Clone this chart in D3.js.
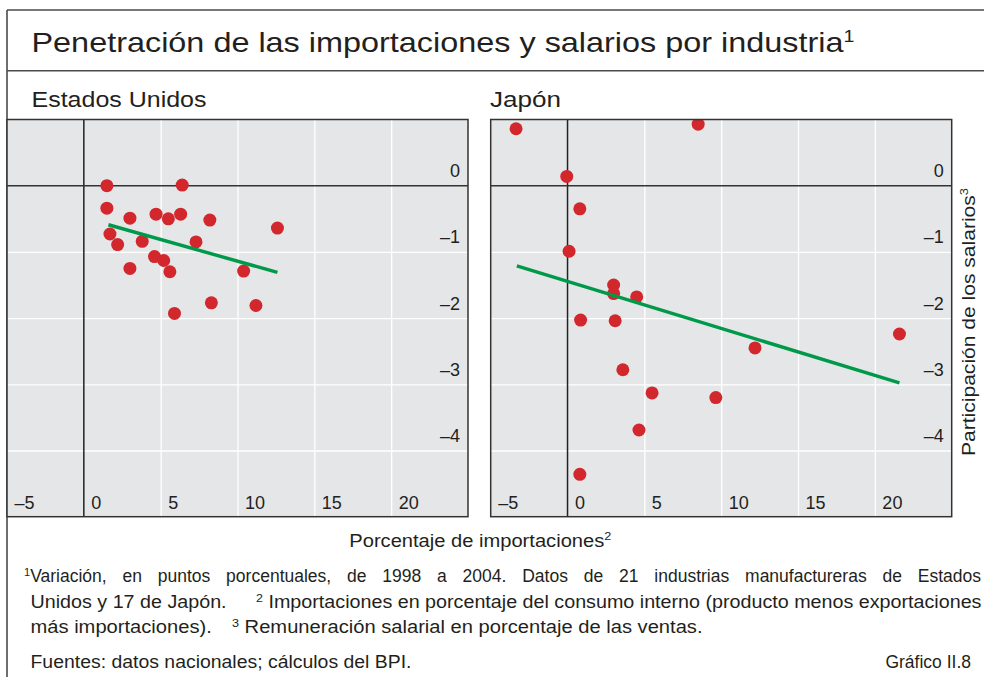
<!DOCTYPE html>
<html>
<head>
<meta charset="utf-8">
<script src="https://cdn.jsdelivr.net/npm/d3@7"></script>
<style>
  body { margin: 0; background: #fff; }
  text { font-family: "Liberation Sans", Arial, sans-serif; fill: #231f20; }
</style>
</head>
<body>
<svg id="chart" width="984" height="677"></svg>
<script>
// Estados Unidos: 21 industrias (porcentaje de importaciones, participación de los salarios)
const usImports = [1.5, 6.4, 1.5, 3.0, 4.7, 5.5, 6.3, 8.2, 12.6, 1.7, 2.2, 3.8, 7.3, 4.6, 5.2, 3.0, 5.6, 10.4, 8.3, 11.2, 5.9];
const usWages   = [0.0, 0.01, -0.34, -0.49, -0.43, -0.50, -0.43, -0.52, -0.64, -0.73, -0.89, -0.84, -0.85, -1.07, -1.13, -1.25, -1.30, -1.29, -1.77, -1.81, -1.93];

// Japón: 17 industrias
const jpImports = [-3.35, 8.5, -0.05, 0.8, 0.1, 3.0, 3.0, 4.5, 0.85, 3.1, 21.6, 12.2, 3.6, 5.5, 9.65, 4.65, 0.8];
const jpWages   = [0.86, 0.93, 0.14, -0.35, -0.99, -1.50, -1.63, -1.68, -2.03, -2.04, -2.24, -2.45, -2.78, -3.13, -3.20, -3.69, -4.36];

// líneas de tendencia (extremos)
const usTrend = [[1.6, -0.59], [12.6, -1.31]];
const jpTrend = [[-3.3, -1.21], [21.6, -2.98]];

const xDomain = [-5, 25];
const yDomain = [-5, 1];
const xTicks = [-5, 0, 5, 10, 15, 20];
const xGrid = [5, 10, 15, 20];
const yTicks = [0, -1, -2, -3, -4];

const svg = d3.select("#chart");
const plotTop = 119.5, plotBottom = 516.7, plotW = 461;
const fmt = d => d < 0 ? "\u2013" + Math.abs(d) : String(d);

// marco exterior
svg.append("line").attr("x1", 7).attr("x2", 984).attr("y1", 10).attr("y2", 10)
  .attr("stroke", "#4a4a4a").attr("stroke-width", 1.6);
svg.append("line").attr("x1", 7).attr("x2", 984).attr("y1", 70.7).attr("y2", 70.7)
  .attr("stroke", "#4a4a4a").attr("stroke-width", 1.4);
svg.append("line").attr("x1", 7).attr("x2", 7).attr("y1", 10).attr("y2", 677)
  .attr("stroke", "#4a4a4a").attr("stroke-width", 1.6);

function fit(sel, target) {
  const w = sel.node().getComputedTextLength();
  if (Math.abs(w - target) > 1) {
    sel.attr("textLength", target).attr("lengthAdjust", "spacingAndGlyphs");
  }
}

// justify a line: widen word gaps if too short, squeeze if too long
function justify(sel, target) {
  const w = sel.node().getComputedTextLength();
  if (w < target) {
    const spaces = (sel.text().match(/ /g) || []).length;
    sel.style("word-spacing", ((target - w) / spaces) + "px");
  } else {
    sel.attr("textLength", target).attr("lengthAdjust", "spacingAndGlyphs");
  }
}

// título
const title = svg.append("text").attr("x", 31.5).attr("y", 52).style("font-size", "28px");
title.append("tspan").text("Penetración de las importaciones y salarios por industria");
title.append("tspan").attr("dy", -10).style("font-size", "17px").text("1");
fit(title, 823);

function drawPanel(left, name, nameX, nameW, imports, wages, trend, id) {
  const x = d3.scaleLinear().domain(xDomain).range([left, left + plotW]);
  const y = d3.scaleLinear().domain(yDomain).range([plotBottom, plotTop]);
  const plotH = plotBottom - plotTop;

  const t = svg.append("text").attr("x", nameX).attr("y", 107)
    .style("font-size", "22px").text(name);
  fit(t, nameW);

  const g = svg.append("g");
  g.append("rect").attr("x", left).attr("y", plotTop)
    .attr("width", plotW).attr("height", plotH).attr("fill", "#e5e6e8");

  svg.append("clipPath").attr("id", id).append("rect")
    .attr("x", left).attr("y", plotTop).attr("width", plotW).attr("height", plotH);

  // rejilla
  const gx = g.append("g").attr("transform", `translate(0,${plotBottom})`)
    .call(d3.axisBottom(x).tickValues(xGrid).tickSize(-plotH).tickFormat(""));
  const gy = g.append("g").attr("transform", `translate(${left},0)`)
    .call(d3.axisLeft(y).tickValues(yTicks.filter(v => v !== 0)).tickSize(-plotW).tickFormat(""));
  [gx, gy].forEach(a => {
    a.select(".domain").remove();
    a.selectAll("line").attr("stroke", "#fff").attr("stroke-width", 1.3);
  });

  // líneas cero
  g.append("line").attr("x1", x(0)).attr("x2", x(0)).attr("y1", plotTop).attr("y2", plotBottom)
    .attr("stroke", "#222").attr("stroke-width", 1.5);
  g.append("line").attr("x1", left).attr("x2", left + plotW).attr("y1", y(0)).attr("y2", y(0))
    .attr("stroke", "#333").attr("stroke-width", 1.4);

  // etiquetas de ejes
  const lx = g.append("g").attr("transform", `translate(0,${plotBottom})`)
    .call(d3.axisBottom(x).tickValues(xTicks).tickSize(0).tickFormat(fmt));
  lx.select(".domain").remove();
  lx.selectAll("text").attr("x", 7).attr("y", -8).attr("dy", 0)
    .style("text-anchor", "start").style("font-size", "18px")
    .style("font-family", "'Liberation Sans', Arial, sans-serif").attr("fill", "#231f20");

  const ly = g.append("g").attr("transform", `translate(${left + plotW},0)`)
    .call(d3.axisLeft(y).tickValues(yTicks).tickSize(0).tickFormat(fmt));
  ly.select(".domain").remove();
  ly.selectAll("text").attr("x", -8).attr("y", -9).attr("dy", 0)
    .style("text-anchor", "end").style("font-size", "18px")
    .style("font-family", "'Liberation Sans', Arial, sans-serif").attr("fill", "#231f20");

  // puntos
  const pts = imports.map((v, i) => ({ x: v, y: wages[i] }));
  g.append("g").attr("clip-path", `url(#${id})`)
    .selectAll("circle").data(pts).enter().append("circle")
    .attr("cx", d => x(d.x)).attr("cy", d => y(d.y)).attr("r", 6.5)
    .attr("fill", "#d1272d");

  // tendencia
  g.append("path").datum(trend)
    .attr("d", d3.line().x(d => x(d[0])).y(d => y(d[1])))
    .attr("stroke", "#00994a").attr("stroke-width", 3.4).attr("fill", "none");

  // borde
  g.append("rect").attr("x", left).attr("y", plotTop).attr("width", plotW).attr("height", plotH)
    .attr("fill", "none").attr("stroke", "#333").attr("stroke-width", 1.5);
}

drawPanel(7, "Estados Unidos", 31.5, 175, usImports, usWages, usTrend, "clipUS");
drawPanel(490.7, "Japón", 490, 71, jpImports, jpWages, jpTrend, "clipJP");

// título eje y
const yl = svg.append("text").attr("transform", "translate(975,322) rotate(-90)")
  .style("text-anchor", "middle").style("font-size", "18px");
yl.append("tspan").text("Participación de los salarios");
yl.append("tspan").attr("dy", -7).style("font-size", "11px").text("3");
fit(yl, 268);

// título eje x
const xl = svg.append("text").attr("x", 349.3).attr("y", 547).style("font-size", "17.5px");
xl.append("tspan").text("Porcentaje de importaciones");
xl.append("tspan").attr("dy", -7).style("font-size", "11px").text("2");
fit(xl, 262);

// notas
const fsz = "17.5px";
const n1 = svg.append("text").attr("x", 24).attr("y", 582).style("font-size", fsz);
n1.append("tspan").attr("dy", -6).style("font-size", "11px").text("1");
n1.append("tspan").attr("dy", 6).text("Variación, en puntos porcentuales, de 1998 a 2004. Datos de 21 industrias manufactureras de Estados");
justify(n1, 957);

const n2 = svg.append("text").attr("x", 30.5).attr("y", 608).style("font-size", fsz);
n2.append("tspan").text("Unidos y 17 de Japón.\u2003\u2002");
n2.append("tspan").attr("dy", -6).style("font-size", "11px").text("2");
n2.append("tspan").attr("dy", 6).text(" Importaciones en porcentaje del consumo interno (producto menos exportaciones");
fit(n2, 951);

const n3 = svg.append("text").attr("x", 30.5).attr("y", 633).style("font-size", fsz);
n3.append("tspan").text("más importaciones).\u2003");
n3.append("tspan").attr("dy", -6).style("font-size", "11px").text("3");
n3.append("tspan").attr("dy", 6).text(" Remuneración salarial en porcentaje de las ventas.");
fit(n3, 672);

const src = svg.append("text").attr("x", 30.5).attr("y", 668).style("font-size", fsz)
  .text("Fuentes: datos nacionales; cálculos del BPI.");
fit(src, 381);

svg.append("text").attr("x", 971).attr("y", 668).style("font-size", fsz)
  .style("text-anchor", "end").text("Gráfico II.8");
</script>
</body>
</html>
